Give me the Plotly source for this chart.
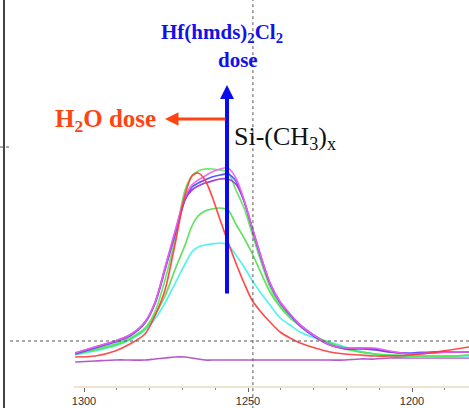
import plotly.graph_objects as go

# Wavenumber grid (cm-1)
wavenumber = [1302.7, 1296.6, 1290.5, 1286.0, 1281.4, 1278.4, 1275.3, 1272.3, 1269.2, 1267.1,
              1265.2, 1263.1, 1261.0, 1258.5, 1256.1, 1253.7, 1251.2, 1248.8, 1246.3, 1243.3,
              1240.2, 1237.2, 1234.1, 1229.6, 1225.0, 1220.4, 1215.9, 1211.3, 1206.7, 1200.6,
              1194.5, 1188.4, 1182.6]

# Absorbance (x 1e-3 a.u.)
magenta = [33, 39, 45, 51, 64, 83, 118, 154, 189, 201, 206, 210, 214, 217, 218, 208, 186, 159, 132, 103,
           84, 72, 61, 50, 41, 38, 38, 38, 35, 32, 33, 34, 34]
purple = [33, 39, 45, 51, 64, 83, 118, 153, 187, 196, 200, 203, 205, 207, 207, 202, 185, 159, 132, 103,
          84, 72, 61, 50, 41, 38, 38, 37, 34, 32, 33, 34, 34]
blue = [32, 38, 44, 50, 63, 82, 116, 151, 186, 199, 203, 206, 209, 211, 212, 205, 185, 158, 131, 102,
        83, 71, 60, 49, 41, 37, 37, 36, 34, 33, 34, 34, 34]
green1 = [32, 37, 42, 48, 58, 74, 106, 146, 196, 210, 215, 217, 217, 216, 214, 196, 178, 153, 127, 99,
          80, 70, 61, 50, 42, 37, 34, 32, 31, 30, 30, 30, 31]
green2 = [32, 36, 41, 47, 57, 71, 90, 116, 141, 160, 170, 175, 177, 178, 176, 162, 148, 133, 115, 94,
          79, 68, 60, 50, 43, 38, 34, 32, 31, 30, 30, 30, 31]
cyan = [31, 35, 40, 46, 56, 67, 83, 102, 122, 134, 139, 141, 142, 143, 141, 131, 119, 106, 94, 81,
        68, 61, 54, 48, 44, 39, 35, 32, 30, 29, 29, 29, 29]
red = [29, 30, 35, 42, 52, 70, 96, 141, 191, 210, 213, 206, 190, 166, 144, 123, 103, 86, 75, 64,
       54, 48, 43, 38, 34, 32, 31, 30, 30, 31, 33, 36, 39]
bottom = [24, 25, 26, 26, 26, 27, 28, 29, 29, 28, 27, 26, 26, 26, 26, 26, 26, 26, 26, 26,
          26, 26, 26, 26, 26, 26, 27, 27, 28, 28, 28, 28, 28]

tick_vals = [1300, 1250, 1200]
tick_text = ["1300", "1250", "1200"]

series = [
    (bottom, "#b048c8"),
    (cyan, "#46f0f0"),
    (green2, "#4ee04e"),
    (green1, "#58e858"),
    (blue, "#4848ff"),
    (purple, "#9a2ad8"),
    (magenta, "#f060f0"),
    (red, "#ff3a3a"),
]

fig = go.Figure()
for ys, col in series:
    fig.add_trace(go.Scatter(
        x=wavenumber, y=[v / 1000 for v in ys], mode="lines",
        line=dict(color=col, width=1.7, shape="spline", smoothing=0.8),
        opacity=0.9, showlegend=False, hoverinfo="skip"))

W, H = 469, 408
ml, mb = 4, 22
pw = W - ml
ph = H - mb
x_lo_px = 74
fig.update_layout(
    width=W, height=H,
    margin=dict(l=ml, r=0, t=0, b=mb),
    paper_bgcolor="white", plot_bgcolor="white",
    xaxis=dict(
        domain=[(x_lo_px - ml) / pw, 1],
        range=[1303.05, 1182.62], autorange=False,
        showgrid=False, zeroline=False,
        showline=True, linecolor="#efe3d2", linewidth=2,
        tickvals=tick_vals, ticktext=tick_text,
        ticks="outside", ticklen=4, tickwidth=1, tickcolor="#666",
        tickfont=dict(family="Liberation Sans Narrow, Arial Narrow, sans-serif", size=11, color="#333"),
        minor=dict(dtick=10, tick0=1300, ticks="outside", ticklen=2, tickcolor="#888", tickwidth=1),
    ),
    yaxis=dict(range=[0, 0.386], autorange=False, visible=False, showgrid=False, zeroline=False),
)

# reference lines
fig.add_shape(type="line", xref="paper", yref="paper", x0=0, x1=0, y0=-0.1, y1=1,
              line=dict(color="#444", width=2))
fig.add_shape(type="line", xref="x", yref="paper", x0=1248.5, x1=1248.5, y0=-0.06, y1=1,
              line=dict(color="#555", width=1, dash="dot"))
fig.add_shape(type="line", xref="paper", yref="y", x0=(10 - ml) / pw, x1=1, y0=0.045, y1=0.045,
              line=dict(color="#555", width=1, dash="dot"))
fig.add_shape(type="line", xref="paper", yref="y", x0=-ml / pw, x1=(10 - ml) / pw, y0=0.239, y1=0.239,
              line=dict(color="#555", width=1, dash="dot"))

serif = "Liberation Serif, Times New Roman, serif"
# arrows
fig.add_annotation(x=1256.4, y=0.301, xref="x", yref="y", ax=0, ay=210, axref="pixel", ayref="pixel",
                   text="", showarrow=True, arrowhead=2, arrowsize=0.7, arrowwidth=4, arrowcolor="#0a0af0")
fig.add_annotation(x=1275.3, y=0.267, xref="x", yref="y", ax=62, ay=0,
                   text="", showarrow=True, arrowhead=2, arrowsize=0.9, arrowwidth=3, arrowcolor="#ff4414")


def px(xp, yp):
    return (xp - ml) / pw, (ph - yp) / ph


def label(xp, yp, text, size, color, xanchor="center"):
    x, y = px(xp, yp)
    fig.add_annotation(x=x, y=y, xref="paper", yref="paper", xanchor=xanchor, yanchor="middle",
                       text=text, showarrow=False, font=dict(family=serif, size=size, color=color))


label(222, 33, "<b>Hf(hmds)<sub>2</sub>Cl<sub>2</sub></b>", 21, "#1212e6")
label(238, 60, "<b>dose</b>", 21, "#1212e6")
label(105, 120, "<b>H<sub>2</sub>O dose</b>", 25, "#ff4414")
label(232, 138, "Si-(CH<sub>3</sub>)<sub>x</sub>", 26, "#111", xanchor="left")

fig.write_html("out.html")
